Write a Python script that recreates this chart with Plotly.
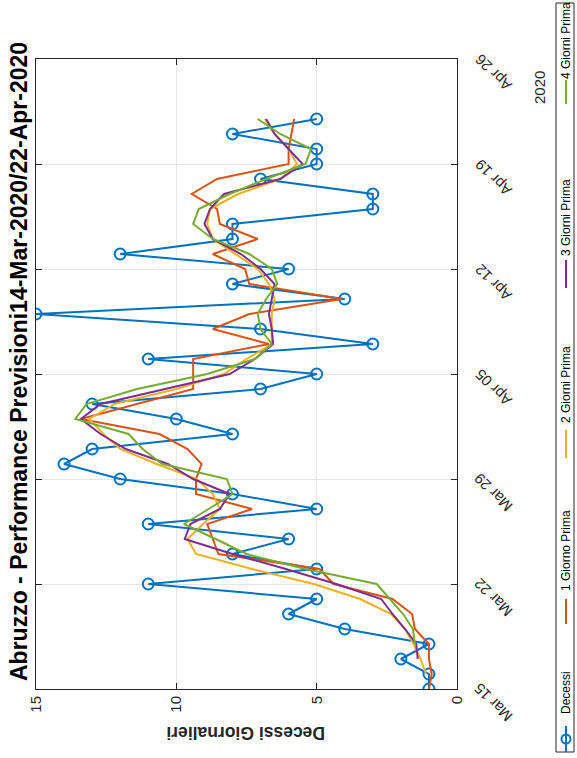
import pandas as pd
import plotly.graph_objects as go

# dati giornalieri Abruzzo, 15 mar - 22 apr 2020
date = pd.date_range("2020-03-15", "2020-04-22", freq="D")

decessi = [1, 1, 2, 1, 4, 6, 5, 11, 5, 8, 6, 11, 5, 8, 12, 14, 13, 8, 10, 13,
           7, 5, 11, 3, 7, 15, 4, 8, 6, 12, 8, 8, 3, 3, 7, 5, 5, 8, 5]

prev_1g = [1.0, 0.9, 1.0, 1.0, 1.5, 1.6, 2.3, 4.4, 4.9, 8.5, 8.7, 8.9, 7.3, 9.3,
           9.3, 9.1, 9.6, 10.6, 13.4, 11.4, 9.4, 9.4, 9.4, 6.7, 8.7, 7.4, 4.1,
           7.4, 7.55, 8.7, 7.1, 8.45, 8.55, 9.45, 8.55, 6.0, 6.0, 5.9, 5.8]
prev_2g = [None, 1.1, 1.3, 1.55, 1.85, 2.35, 3.45, 5.1, 7.3, 9.3, 9.6, 9.05, 8.45,
           8.7, 9.27, 10.7, 12.0, 12.6, 13.1, 12.2, 10.0, 8.3, 7.5, 6.6, 6.6, 6.6,
           6.5, 6.7, 7.1, 7.9, 8.7, 8.9, 8.8, 7.8, 6.3, 5.7, 6.0, 6.5, 6.85]
prev_3g = [None, None, 1.4, 1.45, 1.85, 2.3, 2.7, 4.3, 6.1, 8.0, 9.7, 9.5, 8.45,
           8.1, 9.4, 10.3, 11.8, 12.7, 13.4, 12.7, 10.4, 8.1, 7.2, 6.55, 6.6, 6.7,
           6.6, 6.5, 7.0, 7.7, 8.7, 9.0, 8.8, 8.3, 6.3, 5.5, 6.0, 6.5, 6.8]
prev_4g = [None, None, None, 1.5, 1.57, 1.92, 2.4, 2.86, 5.4, 7.5, 8.6, 9.73, 8.85,
           8.0, 8.2, 10.5, 11.2, 11.7, 13.6, 13.2, 11.4, 8.9, 7.2, 6.6, 7.0, 7.1,
           6.8, 6.4, 6.6, 7.4, 8.7, 9.4, 9.2, 8.1, 6.8, 5.4, 5.2, 6.3, 7.1]

nomi = ["Decessi", "1 Giorno Prima", "2 Giorni Prima", "3 Giorni Prima", "4 Giorni Prima"]
colori = ["#0072BD", "#D95319", "#EDB120", "#7E2F8E", "#77AC30"]

tick_date = pd.date_range("2020-03-15", "2020-04-26", freq="7D")
tick_testo = [d.strftime("%b %d") for d in tick_date]

font_base = "Liberation Sans, Arial, sans-serif"

fig = go.Figure()

# grafico ruotato: valori in orizzontale, date in verticale
fig.add_trace(go.Scatter(x=decessi, y=date, mode="lines+markers", name=nomi[0],
                         line=dict(color=colori[0], width=2),
                         marker=dict(symbol="circle-open", size=11,
                                     line=dict(width=2, color=colori[0]))))
for serie, nome, col in zip([prev_1g, prev_2g, prev_3g, prev_4g], nomi[1:], colori[1:]):
    fig.add_trace(go.Scatter(x=serie, y=date, mode="lines", name=nome,
                             line=dict(color=col, width=2)))

fig.update_layout(
    width=577, height=758,
    margin=dict(l=36, r=120, t=59, b=69),
    plot_bgcolor="white", paper_bgcolor="white",
    showlegend=False,
    font=dict(family=font_base, color="#262626", size=14),
    xaxis=dict(range=[15, 0], tickvals=[0, 5, 10, 15], tickangle=-90,
               ticks="inside", ticklen=6, tickcolor="#262626", mirror="ticks",
               showline=True, linecolor="#262626", linewidth=1, automargin=False,
               showgrid=True, gridcolor="#e6e6e6", zeroline=False,
               tickfont=dict(size=15)),
    yaxis=dict(range=[tick_date[0], tick_date[-1]], side="right",
               tickvals=tick_date, showticklabels=False,
               ticks="inside", ticklen=6, tickcolor="#262626", mirror="ticks",
               showline=True, linecolor="#262626", linewidth=1, automargin=False,
               showgrid=True, gridcolor="#e6e6e6", zeroline=False),
)

def px(x):
    return (x - 36) / 421

def py(y):
    return (689 - y) / 630

# etichette delle date, ruotate come nell'originale
for d, t in zip(tick_date, tick_testo):
    fig.add_annotation(x=px(493), y=d, xref="paper", yref="y", yshift=-14,
                       showarrow=False, text=t, textangle=-135,
                       xanchor="center", yanchor="middle", font=dict(size=15))

# titolo e etichetta asse (ruotati)
fig.add_annotation(x=px(19), y=py(362), xref="paper", yref="paper", showarrow=False,
                   text="<b>Abruzzo - Performance Previsioni14-Mar-2020/22-Apr-2020</b>",
                   textangle=-90, xanchor="center", yanchor="middle",
                   font=dict(size=23, color="black"))
fig.add_annotation(x=px(246), y=py(733), xref="paper", yref="paper", showarrow=False,
                   text="<b>Decessi Giornalieri</b>", textangle=180,
                   xanchor="center", yanchor="middle",
                   font=dict(size=17.5, color="#262626"))
fig.add_annotation(x=px(540), y=py(88), xref="paper", yref="paper",
                   showarrow=False, text="2020", textangle=-90,
                   xanchor="center", yanchor="middle", font=dict(size=15))

# legenda disegnata a mano (verticale, testo ruotato)
fig.add_shape(type="rect", xref="paper", yref="paper", x0=px(556), x1=px(574),
              y0=py(752), y1=py(3), line=dict(color="#262626", width=1), fillcolor="white")
leg_testo_y = [693, 551, 385, 218, 41]
leg_linea_y = [(726, 752), (599, 624), (430, 458), (260, 288), (80, 104)]
for nome, col, ty, (l0, l1) in zip(nomi, colori, leg_testo_y, leg_linea_y):
    fig.add_shape(type="line", xref="paper", yref="paper", x0=px(566), x1=px(566),
                  y0=py(l0), y1=py(l1), line=dict(color=col, width=2))
    fig.add_annotation(x=px(566), y=py(ty), xref="paper", yref="paper", showarrow=False,
                       text=nome, textangle=-90, xanchor="center", yanchor="middle",
                       font=dict(size=12, color="black"))
fig.add_shape(type="circle", xref="paper", yref="paper", xsizemode="pixel",
              ysizemode="pixel", xanchor=px(566), yanchor=py(739),
              x0=-4.5, x1=4.5, y0=-4.5, y1=4.5, line=dict(color=colori[0], width=2))

fig.write_html("out.html", config={"displayModeBar": False},
               post_script="document.body.style.margin='0';")
